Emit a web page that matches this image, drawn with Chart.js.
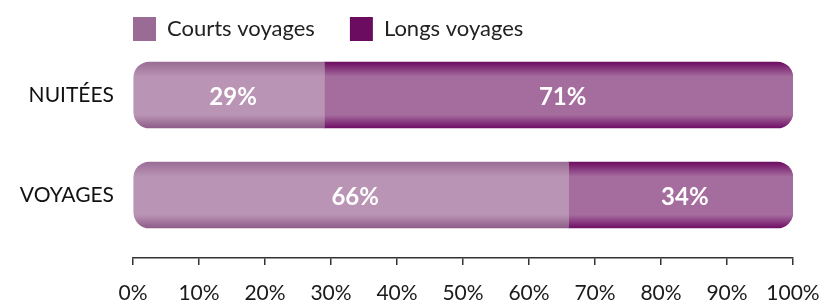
<!DOCTYPE html>
<html>
<head>
<meta charset="utf-8">
<script src="https://cdn.jsdelivr.net/npm/chart.js@4/dist/chart.umd.min.js"></script>
<style>
  html, body { margin: 0; padding: 0; background: #fff; }
  #wrap { width: 822px; height: 307px; position: relative; }
</style>
</head>
<body>
<div id="wrap"><canvas id="chart"></canvas></div>
<script>
// categories and shares (%)
var categories = ['NUITÉES', 'VOYAGES'];
var courtsVoyages = [29, 66];
var longsVoyages = [71, 34];
var tickValues = [0, 10, 20, 30, 40, 50, 60, 70, 80, 90, 100];

var BAR = 66; // bar thickness in px

// vertical shading for the pill bars
function shade(edgeTop, mid, edgeBottom, flat) {
    return function (c) {
        if (c.type !== 'data') return flat;
        var chart = c.chart;
        var y = chart.scales.y.getPixelForValue(c.dataIndex);
        if (!isFinite(y)) return flat;
        var g = chart.ctx.createLinearGradient(0, y - BAR / 2, 0, y + BAR / 2);
        g.addColorStop(0, edgeTop);
        g.addColorStop(0.22, mid);
        g.addColorStop(0.5, mid);
        g.addColorStop(0.8, mid);
        g.addColorStop(1, edgeBottom);
        return g;
    };
}

// white % labels in the middle of each segment
var valueLabels = {
    id: 'valueLabels',
    afterDatasetsDraw: function (chart) {
        var ctx = chart.ctx;
        ctx.save();
        ctx.fillStyle = '#ffffff';
        ctx.font = 'bold 24px Lato';
        ctx.textAlign = 'center';
        ctx.textBaseline = 'middle';
        chart.data.datasets.forEach(function (ds, di) {
            chart.getDatasetMeta(di).data.forEach(function (el, i) {
                var p = el.getCenterPoint();
                ctx.fillText(ds.data[i].x + '%', p.x + 4, p.y + 2);
            });
        });
        ctx.restore();
    }
};

// move legend so it starts at the left edge of the plot
var legendShift = {
    id: 'legendShift',
    afterLayout: function (chart) {
        var pad = chart.options.plugins.legend.labels.padding;
        chart.legend.left = chart.chartArea.left - pad;
    }
};

var ctx = document.getElementById('chart').getContext('2d');

var shareChart = new Chart(ctx, {
    type: 'bar',
    data: {
        datasets: [
            {
                label: 'Courts voyages',
                data: courtsVoyages.map(function (v, i) { return { x: v, y: i }; }),
                backgroundColor: shade('#9a6c95', '#b994b4', '#8e5d88', '#8f5b8b'),
                borderWidth: 0,
                borderSkipped: false,
                borderRadius: { topLeft: 16, bottomLeft: 16, topRight: 0, bottomRight: 0 },
                barThickness: BAR
            },
            {
                label: 'Longs voyages',
                data: longsVoyages.map(function (v, i) { return { x: v, y: i }; }),
                backgroundColor: shade('#6c0c61', '#a56c9e', '#700f66', '#6a0a5f'),
                borderWidth: 0,
                borderSkipped: false,
                borderRadius: { topLeft: 0, bottomLeft: 0, topRight: 16, bottomRight: 16 },
                barThickness: BAR
            }
        ]
    },
    options: {
        indexAxis: 'y',
        responsive: true,
        maintainAspectRatio: false,
        animation: false,
        layout: { padding: { top: -18, right: 29, bottom: 0, left: 0 } },
        scales: {
            x: {
                stacked: true,
                min: 0,
                max: 100,
                afterBuildTicks: function (scale) {
                    scale.ticks = tickValues.map(function (v) { return { value: v }; });
                },
                afterFit: function (scale) {
                    scale.height = 49;
                    scale.paddingLeft = 0;
                    scale.paddingRight = 0;
                },
                ticks: {
                    callback: function (v) { return v + '%'; },
                    font: { family: 'Lato', size: 21 },
                    color: '#1a1a1a',
                    padding: 16,
                    maxRotation: 0,
                    autoSkip: false
                },
                grid: { drawOnChartArea: false, drawTicks: true, tickLength: 7, color: '#333', lineWidth: 1.5 },
                border: { display: true, color: '#333', width: 1.5 }
            },
            y: {
                type: 'linear',
                stacked: true,
                reverse: true,
                offset: false,
                bounds: 'data',
                min: -0.44,
                max: 1.63,
                afterBuildTicks: function (scale) {
                    scale.ticks = categories.map(function (c, i) { return { value: i }; });
                },
                afterFit: function (scale) {
                    scale.width = 133;
                    scale.paddingTop = 0;
                    scale.paddingBottom = 0;
                },
                ticks: {
                    callback: function (v) { return categories[v]; },
                    font: { family: 'Lato', size: 21 },
                    color: '#111',
                    padding: 19
                },
                grid: { display: false, drawTicks: false, offset: false },
                border: { display: false }
            }
        },
        plugins: {
            legend: {
                position: 'top',
                align: 'start',
                labels: {
                    boxWidth: 23,
                    boxHeight: 24,
                    padding: 35,
                    color: '#222',
                    font: { family: 'Lato', size: 22 }
                }
            },
            tooltip: { enabled: false }
        }
    },
    plugins: [valueLabels, legendShift]
});
</script>
</body>
</html>
